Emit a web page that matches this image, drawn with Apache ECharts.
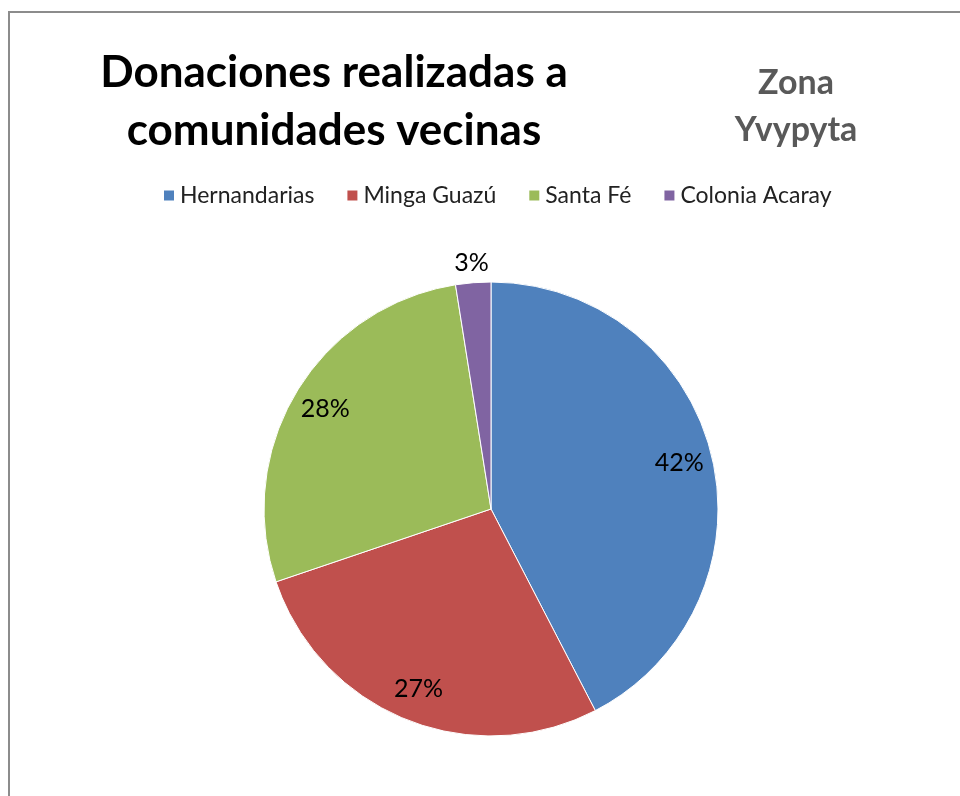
<!DOCTYPE html>
<html>
<head>
<meta charset="utf-8">
<script src="https://cdn.jsdelivr.net/npm/echarts@6/dist/echarts.min.js"></script>
<style>
  html, body { margin: 0; padding: 0; background: #fff; }
  #chart { width: 960px; height: 796px; }
</style>
</head>
<body>
<div id="chart"></div>
<script>
// datos
const comunidades = ['Hernandarias', 'Minga Guazú', 'Santa Fé', 'Colonia Acaray'];
const donaciones = [42.4, 27.4, 27.7, 2.5];
const etiquetaFuera = ['Colonia Acaray'];

const COLORES = ['#4F81BD', '#C0504D', '#9BBB59', '#8064A2'];
const FUENTE = 'Lato, "Open Sans", sans-serif';

const centro = [491, 509];
const radio = 227;

function pct(p) {
  return Math.round(p.percent) + '%';
}

const chart = echarts.init(document.getElementById('chart'));
chart.setOption({
  color: COLORES,
  animation: false,
  title: [{
    text: 'Donaciones realizadas a\ncomunidades vecinas',
    left: 329,
    top: 39,
    textAlign: 'center',
    textStyle: { fontFamily: FUENTE, fontSize: 44, fontWeight: 'bold', color: '#000', lineHeight: 58 }
  }, {
    text: 'Zona\nYvypyta',
    left: 791,
    top: 55,
    textAlign: 'center',
    textStyle: { fontFamily: FUENTE, fontSize: 34, fontWeight: 'bold', color: '#595959', lineHeight: 47 }
  }],
  legend: {
    data: comunidades,
    left: 157,
    top: 179,
    icon: 'rect',
    itemWidth: 12,
    itemHeight: 12,
    itemGap: 31,
    textStyle: { fontFamily: FUENTE, fontSize: 23, color: '#222' }
  },
  graphic: [{
    type: 'rect',
    silent: true,
    shape: { x: 9, y: 12, width: 1000, height: 1000 },
    style: { fill: 'none', stroke: '#8c8c8c', lineWidth: 2 }
  }],
  series: [{
    type: 'pie',
    name: 'Donaciones',
    center: centro,
    radius: radio,
    startAngle: 90,
    label: { show: false },
    labelLine: { show: false },
    itemStyle: { borderColor: '#fff', borderWidth: 1 },
    data: comunidades.map((n, i) => ({ name: n, value: donaciones[i] }))
  }, {
    // anillo invisible para ubicar las etiquetas interiores
    type: 'pie',
    silent: true,
    legendHoverLink: false,
    center: centro,
    radius: [radio * 0.68, radio],
    startAngle: 90,
    itemStyle: { color: 'rgba(0,0,0,0)' },
    label: { position: 'inside', formatter: pct, fontFamily: FUENTE, fontSize: 25, color: '#000' },
    labelLine: { show: false },
    data: comunidades.map((n, i) => ({
      name: n, value: donaciones[i],
      label: { show: etiquetaFuera.indexOf(n) < 0 }
    }))
  }, {
    // anillo exterior invisible para la etiqueta pequeña
    type: 'pie',
    silent: true,
    legendHoverLink: false,
    center: centro,
    radius: [radio, radio + 34],
    startAngle: 90,
    itemStyle: { color: 'rgba(0,0,0,0)' },
    label: { position: 'inside', formatter: pct, fontFamily: FUENTE, fontSize: 25, color: '#000' },
    labelLine: { show: false },
    data: comunidades.map((n, i) => ({
      name: n, value: donaciones[i],
      label: { show: etiquetaFuera.indexOf(n) >= 0 }
    }))
  }]
});
</script>
</body>
</html>
